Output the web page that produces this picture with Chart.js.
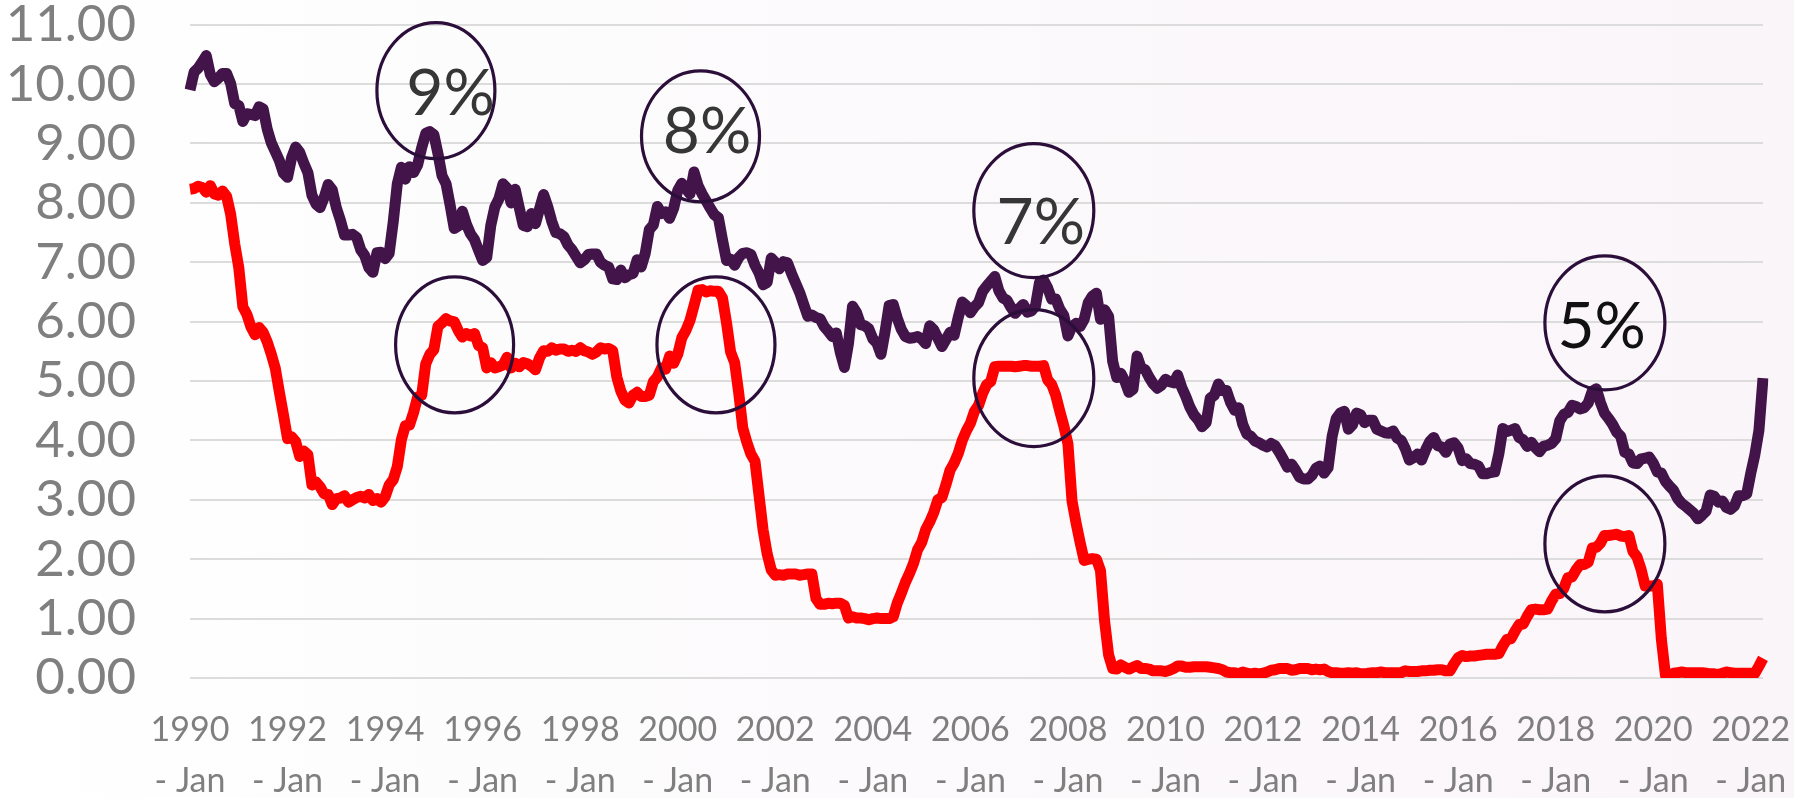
<!DOCTYPE html>
<html><head><meta charset="utf-8">
<script src="https://cdn.jsdelivr.net/npm/chart.js@4.4.1/dist/chart.umd.min.js"></script>
<style>html,body{margin:0;padding:0;background:#fff;overflow:hidden}canvas{display:block}</style>
</head><body>
<canvas id="c" width="1794" height="798"></canvas>
<script>
// ---- data (monthly, Jan 1990 - Apr 2022) ----
const startYear = 1990;
const monthNames = ['Jan','Feb','Mar','Apr','May','Jun','Jul','Aug','Sep','Oct','Nov','Dec'];

const mortgage30 = [
 9.90,10.20,10.27,10.37,10.48,10.16,10.04,10.10,10.18,10.18,10.01,9.67,
 9.64,9.37,9.50,9.49,9.47,9.62,9.58,9.24,9.01,8.86,8.71,8.50,
 8.43,8.76,8.94,8.85,8.67,8.51,8.13,7.98,7.92,8.09,8.31,8.22,
 7.92,7.71,7.46,7.46,7.47,7.42,7.21,7.11,6.91,6.83,7.16,7.17,
 7.06,7.15,7.68,8.32,8.60,8.40,8.61,8.51,8.64,8.93,9.17,9.20,
 9.15,8.83,8.46,8.32,7.96,7.57,7.61,7.86,7.64,7.48,7.38,7.20,
 7.03,7.08,7.62,7.93,8.07,8.32,8.25,8.00,8.23,7.92,7.62,7.60,
 7.82,7.65,7.90,8.14,7.94,7.69,7.50,7.48,7.43,7.29,7.21,7.10,
 6.99,7.04,7.13,7.14,7.14,7.00,6.95,6.92,6.72,6.71,6.87,6.74,
 6.79,6.81,7.04,6.92,7.15,7.55,7.63,7.94,7.82,7.85,7.74,7.91,
 8.21,8.33,8.24,8.15,8.52,8.29,8.15,8.03,7.91,7.80,7.75,7.38,
 7.03,7.05,6.95,7.08,7.15,7.16,7.13,6.95,6.82,6.62,6.66,7.07,
 7.00,6.89,7.01,6.99,6.81,6.65,6.49,6.29,6.09,6.11,6.07,6.05,
 5.92,5.84,5.75,5.81,5.48,5.23,5.63,6.26,6.15,5.95,5.93,5.88,
 5.71,5.64,5.45,5.83,6.27,6.29,6.06,5.87,5.75,5.72,5.73,5.75,
 5.71,5.63,5.93,5.86,5.72,5.58,5.70,5.82,5.77,6.07,6.33,6.27,
 6.15,6.25,6.32,6.51,6.60,6.68,6.76,6.52,6.40,6.36,6.24,6.14,
 6.22,6.29,6.16,6.18,6.26,6.66,6.70,6.57,6.38,6.38,6.21,6.10,
 5.76,5.92,5.97,5.92,6.04,6.32,6.43,6.48,6.04,6.20,6.09,5.33,
 5.06,5.13,5.00,4.81,4.86,5.42,5.22,5.19,5.06,4.95,4.88,4.93,
 5.03,4.99,4.97,5.10,4.89,4.74,4.56,4.43,4.35,4.23,4.30,4.71,
 4.76,4.95,4.84,4.84,4.64,4.51,4.55,4.27,4.11,4.07,3.99,3.96,
 3.92,3.89,3.95,3.91,3.80,3.68,3.55,3.60,3.50,3.38,3.35,3.35,
 3.41,3.53,3.57,3.45,3.54,4.07,4.37,4.46,4.49,4.19,4.26,4.46,
 4.43,4.30,4.34,4.34,4.19,4.16,4.13,4.12,4.16,4.04,4.00,3.86,
 3.67,3.71,3.77,3.67,3.84,3.98,4.05,3.91,3.89,3.80,3.94,3.96,
 3.87,3.66,3.69,3.61,3.60,3.57,3.44,3.44,3.46,3.47,3.77,4.20,
 4.15,4.17,4.20,4.05,4.01,3.90,3.97,3.88,3.81,3.90,3.92,3.95,
 4.03,4.33,4.44,4.47,4.59,4.57,4.53,4.55,4.63,4.83,4.87,4.64,
 4.46,4.37,4.27,4.14,4.07,3.80,3.77,3.62,3.61,3.69,3.70,3.72,
 3.62,3.47,3.45,3.31,3.23,3.16,3.02,2.94,2.89,2.83,2.77,2.68,
 2.74,2.81,3.08,3.06,2.96,2.98,2.87,2.84,2.90,3.07,3.07,3.10,
 3.45,3.76,4.17,5.05
];

const fedFunds = [
 8.23,8.24,8.28,8.26,8.18,8.29,8.15,8.13,8.20,8.11,7.81,7.31,
 6.91,6.25,6.12,5.91,5.78,5.90,5.82,5.66,5.45,5.21,4.81,4.43,
 4.03,4.06,3.98,3.73,3.82,3.76,3.25,3.30,3.22,3.10,3.09,2.92,
 3.02,3.03,3.07,2.96,3.00,3.04,3.06,3.03,3.09,2.99,3.02,2.96,
 3.05,3.25,3.34,3.56,4.01,4.25,4.26,4.47,4.73,4.76,5.29,5.45,
 5.53,5.92,5.98,6.05,6.01,6.00,5.85,5.74,5.80,5.76,5.80,5.60,
 5.56,5.22,5.31,5.22,5.24,5.27,5.40,5.22,5.30,5.24,5.31,5.29,
 5.25,5.19,5.39,5.51,5.50,5.56,5.52,5.54,5.54,5.50,5.52,5.50,
 5.56,5.51,5.49,5.45,5.49,5.56,5.54,5.55,5.51,5.07,4.83,4.68,
 4.63,4.76,4.81,4.74,4.74,4.76,4.99,5.07,5.22,5.20,5.42,5.30,
 5.45,5.73,5.85,6.02,6.27,6.53,6.54,6.50,6.52,6.51,6.51,6.40,
 5.98,5.49,5.31,4.80,4.21,3.97,3.77,3.65,3.07,2.49,2.09,1.82,
 1.73,1.74,1.73,1.75,1.75,1.75,1.73,1.74,1.75,1.75,1.34,1.24,
 1.24,1.26,1.25,1.26,1.26,1.22,1.01,1.03,1.01,1.01,1.00,0.98,
 1.00,1.01,1.00,1.00,1.00,1.03,1.26,1.43,1.61,1.76,1.93,2.16,
 2.28,2.50,2.63,2.79,3.00,3.04,3.26,3.50,3.62,3.78,4.00,4.16,
 4.29,4.49,4.59,4.79,4.94,4.99,5.24,5.25,5.25,5.25,5.25,5.24,
 5.25,5.26,5.26,5.25,5.25,5.25,5.26,5.02,4.94,4.76,4.49,4.24,
 3.94,2.98,2.61,2.28,1.98,2.00,2.01,2.00,1.81,0.97,0.39,0.16,
 0.15,0.22,0.18,0.15,0.18,0.21,0.16,0.16,0.15,0.12,0.12,0.12,
 0.11,0.13,0.16,0.20,0.20,0.18,0.18,0.19,0.19,0.19,0.19,0.18,
 0.17,0.16,0.14,0.10,0.09,0.09,0.07,0.10,0.08,0.07,0.08,0.07,
 0.08,0.10,0.13,0.14,0.16,0.16,0.16,0.13,0.14,0.16,0.16,0.16,
 0.14,0.15,0.14,0.15,0.11,0.09,0.09,0.08,0.08,0.09,0.08,0.09,
 0.07,0.07,0.08,0.09,0.09,0.10,0.09,0.09,0.09,0.09,0.09,0.12,
 0.11,0.11,0.11,0.12,0.12,0.13,0.13,0.14,0.14,0.12,0.12,0.24,
 0.34,0.38,0.36,0.37,0.37,0.38,0.39,0.40,0.40,0.40,0.41,0.54,
 0.65,0.66,0.79,0.90,0.91,1.04,1.15,1.16,1.15,1.15,1.16,1.30,
 1.41,1.42,1.51,1.69,1.70,1.82,1.91,1.91,1.95,2.19,2.20,2.27,
 2.40,2.40,2.41,2.42,2.39,2.38,2.40,2.13,2.04,1.83,1.55,1.55,
 1.55,1.58,0.65,0.05,0.05,0.08,0.09,0.10,0.09,0.09,0.09,0.09,
 0.09,0.08,0.07,0.07,0.06,0.08,0.10,0.09,0.08,0.08,0.08,0.08,
 0.08,0.08,0.20,0.33
];

const yTicks = [0,1,2,3,4,5,6,7,8,9,10,11];
const labelEveryMonths = 24;

// annotation ellipses (index on category axis, value on y axis)
const ellipses = [
 {i:60.5,  v:9.89, rx:59, ry:68},
 {i:65.1,  v:5.61, rx:59, ry:68},
 {i:125.6, v:9.12, rx:59, ry:65.5},
 {i:129.4, v:5.61, rx:59, ry:68},
 {i:207.6, v:7.87, rx:60, ry:67},
 {i:207.6, v:5.05, rx:60, ry:68.5},
 {i:348.1, v:5.98, rx:60, ry:67},
 {i:348.1, v:2.26, rx:60, ry:68}
];
const notes = [
 {t:'9%', i:64.1,  v:9.87, c:'#363636'},
 {t:'8%', i:127.2, v:9.23, c:'#363636'},
 {t:'7%', i:209.3, v:7.70, c:'#363636'},
 {t:'5%', i:347.3, v:5.95, c:'#111111'}
];

// categories
const categories = mortgage30.map((_, k) => {
  const y = startYear + Math.floor(k / 12);
  return y + ' - ' + monthNames[k % 12];
});

const bgPlugin = {
  id: 'bg',
  beforeDraw(chart) {
    const ctx = chart.ctx;
    const g = ctx.createLinearGradient(0, 0, chart.width, 0);
    g.addColorStop(0, '#ffffff');
    g.addColorStop(0.3, '#fdfcfd');
    g.addColorStop(1, '#faf5f9');
    ctx.save();
    ctx.fillStyle = g;
    ctx.fillRect(0, 0, chart.width, chart.height);
    ctx.restore();
  }
};

const annPlugin = {
  id: 'ann',
  afterDatasetsDraw(chart) {
    const ctx = chart.ctx, xs = chart.scales.x, ys = chart.scales.y;
    ctx.save();
    ctx.strokeStyle = '#2c0e3a';
    ctx.lineWidth = 3.2;
    ellipses.forEach(e => {
      const cx = xs.getPixelForValue(e.i), cy = ys.getPixelForValue(e.v);
      ctx.beginPath();
      ctx.ellipse(cx, cy, e.rx, e.ry, 0, 0, Math.PI * 2);
      ctx.stroke();
    });
    ctx.font = '64px Lato, "Open Sans", sans-serif';
    ctx.textAlign = 'center';
    ctx.textBaseline = 'alphabetic';
    notes.forEach(n => {
      const cx = xs.getPixelForValue(n.i), cy = ys.getPixelForValue(n.v);
      ctx.fillStyle = n.c;
      ctx.fillText(n.t, cx, cy + 23);
    });
    ctx.restore();
  }
};

Chart.defaults.font.family = 'Lato, "Open Sans", sans-serif';

new Chart(document.getElementById('c'), {
  type: 'line',
  data: {
    labels: categories,
    datasets: [
      { label: 'Fed Funds', data: fedFunds, borderColor: '#ff0000', backgroundColor: '#ff0000',
        borderWidth: 11, pointRadius: 0, tension: 0, borderJoinStyle: 'round', borderCapStyle: 'butt', fill: false },
      { label: '30-Year Mortgage', data: mortgage30, borderColor: '#42144a', backgroundColor: '#42144a',
        borderWidth: 11, pointRadius: 0, tension: 0, borderJoinStyle: 'round', borderCapStyle: 'butt', fill: false }
    ]
  },
  options: {
    responsive: false,
    animation: false,
    devicePixelRatio: 1,
    layout: { padding: { top: 24.7, right: 31, left: 0, bottom: 0 } },
    plugins: { legend: { display: false }, tooltip: { enabled: false } },
    scales: {
      x: {
        offset: false,
        grid: { display: false, drawTicks: false },
        border: { display: false },
        ticks: {
          autoSkip: false, maxRotation: 0, minRotation: 0,
          color: '#7f7f7f', padding: 26.5,
          font: { size: 34, lineHeight: 1.5 },
          callback: function(val, idx) {
            if (idx % labelEveryMonths !== 0) return '';
            const parts = categories[idx].split(' - ');
            return [parts[0], '- ' + parts[1]];
          }
        },
        afterFit(s) { s.height = 120; s.paddingLeft = 0; s.paddingRight = 0; }
      },
      y: {
        min: yTicks[0], max: yTicks[yTicks.length - 1],
        grid: { color: '#dcdcdc', lineWidth: 2, drawTicks: false },
        border: { display: false },
        ticks: {
          stepSize: 1, color: '#7f7f7f', padding: 54,
          font: { size: 51, lineHeight: 1.0 },
          callback: v => Number(v).toFixed(2)
        },
        afterFit(s) { s.width = 190; s.paddingTop = 0; s.paddingBottom = 0; }
      }
    }
  },
  plugins: [bgPlugin, annPlugin]
});
</script>
</body></html>
